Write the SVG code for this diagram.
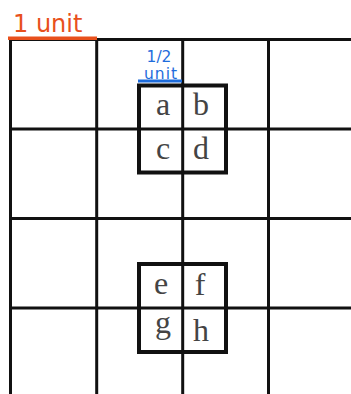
<svg xmlns="http://www.w3.org/2000/svg" width="351" height="394" viewBox="0 0 351 394">
<style>
.grid{stroke:#111;stroke-width:3;fill:none}
.box{stroke:#111;stroke-width:4;fill:#fff}
.ltr{font-family:"Liberation Serif","DejaVu Serif",serif;font-size:32px;fill:#444;text-anchor:middle}
.orange{font-family:"DejaVu Sans",sans-serif;font-size:24px;fill:#e8501c}
.blue{font-family:"DejaVu Sans",sans-serif;font-size:15.5px;fill:#1e6cdc;text-anchor:middle}
</style>
<rect width="351" height="394" fill="#fff"/>
<g id="grid" class="grid">
<line x1="9" y1="39.5" x2="351" y2="39.5"/>
<line x1="9" y1="129" x2="351" y2="129"/>
<line x1="9" y1="218.5" x2="351" y2="218.5"/>
<line x1="9" y1="308" x2="351" y2="308"/>
<line x1="10.5" y1="38" x2="10.5" y2="394"/>
<line x1="96.7" y1="38" x2="96.7" y2="394"/>
<line x1="182.7" y1="38" x2="182.7" y2="394"/>
<line x1="268.5" y1="38" x2="268.5" y2="394"/>
</g>
<g id="box-top">
<rect class="box" x="139" y="85.5" width="87" height="87"/>
<line class="grid" x1="139" y1="129" x2="226" y2="129"/>
<line class="grid" x1="182.7" y1="85.5" x2="182.7" y2="172.5"/>
<text class="ltr" x="163" y="115">a</text>
<text class="ltr" x="201" y="115">b</text>
<text class="ltr" x="163" y="158.5">c</text>
<text class="ltr" x="201" y="159">d</text>
</g>
<g id="box-bottom">
<rect class="box" x="139" y="264" width="87" height="88"/>
<line class="grid" x1="139" y1="308" x2="226" y2="308"/>
<line class="grid" x1="182.7" y1="264" x2="182.7" y2="352"/>
<text class="ltr" x="161" y="294">e</text>
<text class="ltr" x="200" y="295">f</text>
<text class="ltr" x="163" y="333">g</text>
<text class="ltr" x="201" y="341">h</text>
</g>
<g id="unit-label">
<line x1="8" y1="38.3" x2="97" y2="38.3" stroke="#e8501c" stroke-width="3.5"/>
<text class="orange" x="13" y="32">1 unit</text>
</g>
<g id="half-unit-label">
<line x1="138" y1="81" x2="182" y2="81" stroke="#1e6cdc" stroke-width="3"/>
<text class="blue" x="159" y="62">1/2</text>
<text class="blue" x="161" y="79" letter-spacing="1">unit</text>
</g>
</svg>
